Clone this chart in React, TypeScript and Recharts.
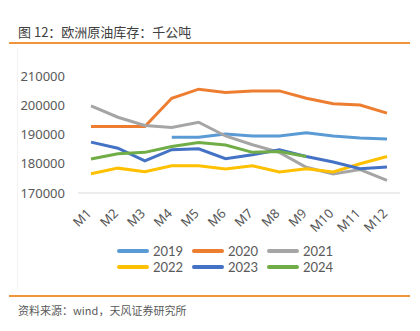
import React from 'react';
import { LineChart, Line, XAxis, YAxis, Legend } from 'recharts';

const months = ['M1', 'M2', 'M3', 'M4', 'M5', 'M6', 'M7', 'M8', 'M9', 'M10', 'M11', 'M12'];
const years = ['2019', '2020', '2021', '2022', '2023', '2024'];
const colors = ['#5b9bd5', '#ed7d31', '#a5a5a5', '#ffc000', '#4472c4', '#70ad47'];

const y2019 = [null, null, null, 189100, 189100, 190200, 189500, 189500, 190600, 189500, 188800, 188500];
const y2020 = [192700, 192700, 192700, 202400, 205500, 204400, 204900, 204900, 202400, 200500, 200100, 197300];
const y2021 = [199800, 195900, 193100, 192400, 194200, 189500, 186500, 183900, 178800, 176500, 178000, 174300];
const y2022 = [176600, 178500, 177300, 179300, 179300, 178200, 179300, 177200, 178300, 177200, 180000, 182500];
const y2023 = [187400, 185300, 181000, 184800, 185100, 181700, 183100, 184800, 182500, 180600, 178300, 178900];
const y2024 = [181600, 183400, 183900, 185900, 187300, 186400, 183900, 184200, 182500, null, null, null];

const yTicks = [170000, 180000, 190000, 200000, 210000];

const seriesValues = [y2019, y2020, y2021, y2022, y2023, y2024];
const data = months.map((m, i) => {
  const row: Record<string, string | number | null> = { month: m };
  years.forEach((yr, k) => {
    row[yr] = seriesValues[k][i];
  });
  return row;
});

const font = '"Noto Sans", "Noto Sans CJK SC", sans-serif';
const cjk = '"Noto Sans CJK SC", sans-serif';
const textGray = '#595959';

// rotated month labels, ending just below each point
const MonthTick = (props: any) => {
  const { x, y, payload } = props;
  const ax = x - 2;
  const ay = y + 10;
  return (
    <text
      x={ax}
      y={ay}
      dy="0.35em"
      textAnchor="end"
      transform={`rotate(-45 ${ax} ${ay})`}
      fill={textGray}
      fontSize={13}
      fontFamily={font}
    >
      {payload.value}
    </text>
  );
};

const LegendBox = () => (
  <div style={{ display: 'grid', gridTemplateColumns: 'repeat(3, 75px)', fontFamily: 'Lato, sans-serif' }}>
    {years.map((yr, k) => (
      <div key={yr} style={{ display: 'flex', alignItems: 'center', height: 16 }}>
        <span
          style={{ display: 'inline-block', width: 32, height: 3.5, borderRadius: 2, background: colors[k] }}
        />
        <span style={{ marginLeft: 4, fontSize: 13, color: textGray, lineHeight: '15px' }}>{yr}</span>
      </div>
    ))}
  </div>
);

const App: React.FC = () => {
  return (
    <div style={{ position: 'absolute', left: 0, top: 0, width: 420, height: 331, background: '#fff' }}>
      <div
        style={{
          position: 'absolute',
          left: 18,
          top: 23,
          fontSize: 13,
          color: '#404040',
          fontFamily: cjk,
          lineHeight: '18px',
        }}
      >
        图 12：欧洲原油库存：千公吨
      </div>
      <div style={{ position: 'absolute', left: 9, top: 42, width: 401, height: 1.5, background: '#f0953c' }} />
      <div style={{ position: 'absolute', left: 17, top: 48, height: 242, borderLeft: '1px solid #f2f2f2' }} />

      <div style={{ position: 'absolute', left: 0, top: 50 }}>
        <LineChart width={420} height={240} data={data} margin={{ top: 26, right: 20, left: 0, bottom: 15 }}>
          <XAxis
            dataKey="month"
            height={50}
            padding={{ left: 13, right: 13 }}
            tickLine={false}
            axisLine={{ stroke: '#d9d9d9' }}
            tick={<MonthTick />}
            interval={0}
          />
          <YAxis
            width={78}
            domain={[170000, 210000]}
            ticks={yTicks}
            axisLine={false}
            tickLine={false}
            tickSize={0}
            tickMargin={13}
            tick={{ fill: textGray, fontSize: 13, fontFamily: font }}
          />
          <Legend
            verticalAlign="bottom"
            height={32}
            content={<LegendBox />}
            wrapperStyle={{ left: 117, width: 230 }}
          />
          {years.map((yr, k) => (
            <Line
              key={yr}
              type="linear"
              dataKey={yr}
              stroke={colors[k]}
              strokeWidth={3}
              dot={false}
              activeDot={false}
              isAnimationActive={false}
            />
          ))}
        </LineChart>
      </div>

      <div style={{ position: 'absolute', left: 9, top: 295, width: 401, height: 1.5, background: '#f0953c' }} />
      <div
        style={{
          position: 'absolute',
          left: 18,
          top: 302,
          fontSize: 11,
          color: textGray,
          fontFamily: cjk,
          lineHeight: '16px',
        }}
      >
        资料来源：wind，天风证券研究所
      </div>
    </div>
  );
};

export default App;
